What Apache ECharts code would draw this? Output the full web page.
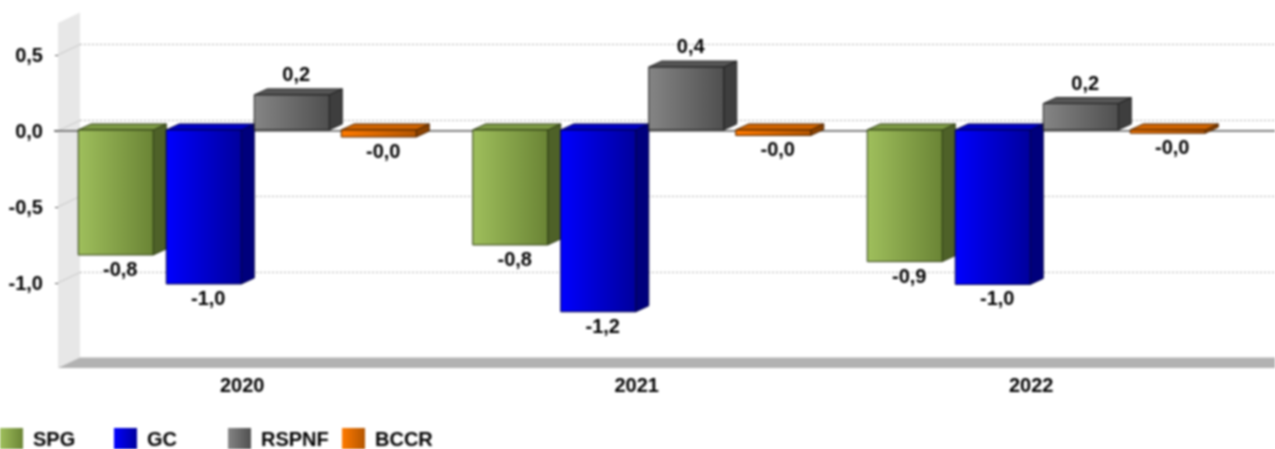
<!DOCTYPE html>
<html>
<head>
<meta charset="utf-8">
<style>
html,body{margin:0;padding:0;background:#fff;overflow:hidden}
#chart{width:1275px;height:449px;filter:blur(0.8px)}
</style>
<script src="https://cdn.jsdelivr.net/npm/echarts@6/dist/echarts.min.js"></script>
</head>
<body>
<div id="chart"></div>
<script>
const categories = ['2020', '2021', '2022'];
const spg = [-0.816, -0.75, -0.86];
const gc = [-1.007, -1.19, -1.01];
const rspnf = [0.237, 0.42, 0.18];
const bccr = [-0.04, -0.03, -0.015];
const yTicks = [-1, -0.5, 0, 0.5];

const FONT = '"Liberation Sans", Arial, sans-serif';
const TEXT = '#000000';
const FONT_SIZE = 20;
const DX = 13, DY = 6, BAR_W = 75;
const WALL_DX = 22, WALL_DY = 10.5, WALL_LEFT = 13;
const LEGEND_STEP = 114;

const styles = {
  SPG:   {offset: -164, from: '#9fbf5c', to: '#6a8435', top: '#7d9a45', side: '#4e6128', edge: '#2e3c14'},
  GC:    {offset: -76,  from: '#0000ff', to: '#00009c', top: '#0000c4', side: '#00007c', edge: '#00004c'},
  RSPNF: {offset: 12,   from: '#858585', to: '#4f4f4f', top: '#565656', side: '#3e3e3e', edge: '#202020'},
  BCCR:  {offset: 99,   from: '#ff7a00', to: '#b35500', top: '#d06400', side: '#8a4100', edge: '#4e2400'}
};
const grad = s => ({type: 'linear', x: 0, y: 0, x2: 1, y2: 0,
  colorStops: [{offset: 0, color: s.from}, {offset: 1, color: s.to}]});
const fmt = v => v.toFixed(1).replace('.', ',');

function bar3d(name) {
  const s = styles[name];
  return function (params, api) {
    const cat = api.value(0), val = api.value(1);
    const cx = api.coord([cat, 0])[0];
    const y0 = api.coord([cat, 0])[1];
    const yv = api.coord([cat, val])[1];
    const x1 = cx + s.offset, x2 = x1 + BAR_W;
    const top = Math.min(y0 - 1, yv), bot = Math.max(y0 - 1, yv);
    const poly = (points, fill) => ({type: 'polygon', shape: {points},
      style: {fill, stroke: s.edge, lineWidth: 1}});
    const labelY = val >= 0 ? top - 21 : bot + 14;
    return {type: 'group', children: [
      poly([[x2, top], [x2 + DX, top - DY], [x2 + DX, bot - DY], [x2, bot]], s.side),
      poly([[x1, top], [x1 + DX, top - DY], [x2 + DX, top - DY], [x2, top]], s.top),
      {type: 'rect', shape: {x: x1, y: top, width: BAR_W, height: bot - top},
        style: {fill: grad(s), stroke: s.edge, lineWidth: 1}},
      {type: 'text', style: {text: fmt(val), x: (x1 + x2) / 2 + 4.5, y: labelY,
        align: 'center', verticalAlign: 'middle', fill: TEXT,
        font: 'bold ' + FONT_SIZE + 'px ' + FONT}}
    ]};
  };
}

function backdrop(params, api) {
  const g = params.coordSys;
  const wx = g.x + WALL_LEFT, bx = wx + WALL_DX;
  const top = g.y, bot = g.y + g.height, right = api.getWidth();
  const kids = [
    {type: 'polygon', shape: {points: [[wx, top], [bx, top - WALL_DY], [bx, bot - WALL_DY], [wx, bot]]},
      style: {fill: '#e7e7e7'}},
    {type: 'polygon', shape: {points: [[wx, bot], [bx, bot - WALL_DY], [right, bot - WALL_DY], [right, bot]]},
      style: {fill: '#b2b2b2'}}
  ];
  yTicks.forEach(t => {
    const y = api.coord([0, t])[1];
    kids.push({type: 'line', shape: {x1: wx, y1: y, x2: bx, y2: y - WALL_DY},
      style: {stroke: '#c8c8c8', lineWidth: 1}});
    kids.push({type: 'line', shape: {x1: bx, y1: y - WALL_DY, x2: right, y2: y - WALL_DY},
      style: {stroke: '#aaaaaa', lineWidth: 1, lineDash: [2, 2]}});
  });
  const yz = api.coord([0, 0])[1];
  kids.push({type: 'line', shape: {x1: wx - 4, y1: yz, x2: right, y2: yz},
    style: {stroke: '#707070', lineWidth: 1.8}});
  return {type: 'group', children: kids};
}

const seriesData = {SPG: spg, GC: gc, RSPNF: rspnf, BCCR: bccr};
const names = Object.keys(seriesData);

const option = {
  animation: false,
  backgroundColor: '#ffffff',
  grid: {left: 45, right: 46.5, top: 23, bottom: 81, containLabel: false},
  legend: names.map((n, i) => ({
    left: i * LEGEND_STEP, top: 428, padding: 0, itemWidth: 23, itemHeight: 21,
    icon: 'rect', selectedMode: false,
    textStyle: {fontFamily: FONT, fontWeight: 'bold', fontSize: FONT_SIZE, color: TEXT,
      padding: [2, 0, 0, 5]},
    data: [{name: n, itemStyle: {color: grad(styles[n])}}]
  })),
  xAxis: {
    type: 'category', data: categories,
    axisLine: {show: false}, axisTick: {show: false}, splitLine: {show: false},
    axisLabel: {margin: 7, fontFamily: FONT, fontWeight: 'bold', fontSize: FONT_SIZE, color: TEXT}
  },
  yAxis: {
    type: 'value', min: -1.56, max: 0.71, offset: -13,
    axisLine: {show: false},
    axisTick: {show: true, length: 3, customValues: yTicks, lineStyle: {color: '#555'}},
    splitLine: {show: false},
    axisLabel: {margin: 15, customValues: yTicks, formatter: fmt,
      fontFamily: FONT, fontWeight: 'bold', fontSize: FONT_SIZE, color: TEXT}
  },
  series: [
    {type: 'custom', name: '_back', silent: true, renderItem: backdrop, data: [[0, 0]], z: 1,
      encode: {x: 0, y: 1}}
  ].concat(names.map(n => ({
    type: 'custom', name: n, z: 2, renderItem: bar3d(n),
    itemStyle: {color: styles[n].from},
    encode: {x: 0, y: 1},
    data: seriesData[n].map((v, i) => [i, v])
  })))
};
const chart = echarts.init(document.getElementById('chart'), null, {renderer: 'svg'});
chart.setOption(option);
</script>
</body>
</html>
